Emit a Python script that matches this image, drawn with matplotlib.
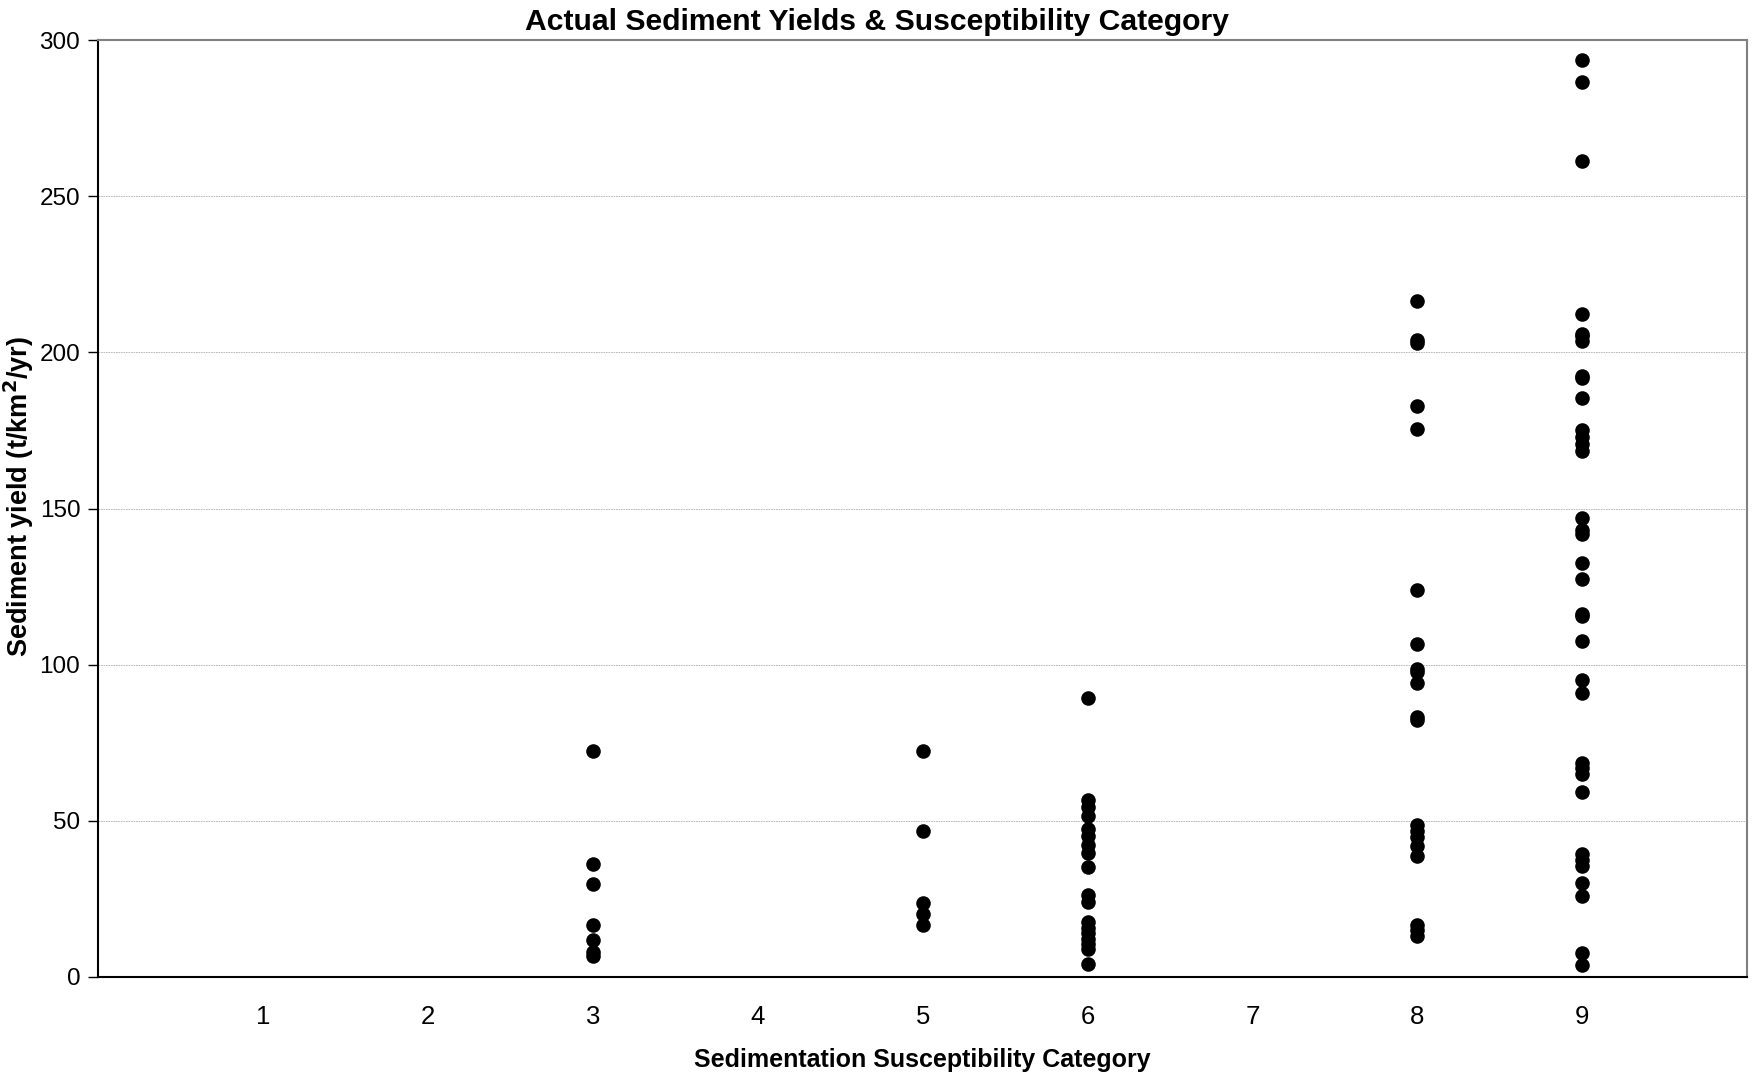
import numpy as np
import matplotlib.pyplot as plt

plt.rcParams['font.family'] = ['Liberation Sans', 'DejaVu Sans']

# Sediment yield (t/km2/yr) per susceptibility category
cat3 = [72.5, 36.2, 29.8, 16.8, 11.9, 7.9, 6.6]
cat5 = [72.5, 46.6, 23.7, 20.2, 16.5]
cat6 = [89.2, 56.6, 54.4, 51.6, 47.3, 45.1, 42.3, 39.7, 35.1, 26.2, 24.0,
        17.5, 15.8, 14.0, 12.3, 10.6, 9.0, 4.3]
cat8 = [216.4, 203.9, 203.0, 182.9, 175.4, 124.0, 106.6, 98.5, 97.7, 94.0,
        83.4, 82.3, 48.7, 46.9, 44.8, 41.9, 38.7, 16.5, 15.0, 13.2]
cat9 = [293.8, 286.6, 261.4, 212.4, 205.9, 205.2, 203.7, 192.6, 191.9, 185.4,
        175.1, 172.9, 170.8, 168.6, 147.0, 143.0, 142.0, 132.7, 127.6, 116.4,
        115.6, 107.7, 95.2, 91.0, 68.5, 67.0, 65.1, 59.4, 39.3, 37.4, 35.4,
        30.0, 26.0, 7.8, 4.0]

categories = [3, 5, 6, 8, 9]
yields = [cat3, cat5, cat6, cat8, cat9]

fig = plt.figure(figsize=(17.53, 10.78), dpi=100)
ax = fig.add_axes([0.0561, 0.0937, 0.9405, 0.869])

for c, vals in zip(categories, yields):
    ax.scatter(np.full(len(vals), c), vals, s=110, color='black', zorder=3,
               linewidths=0)

ax.set_xlim(0, 10)
ax.set_ylim(0, 300)
ax.set_xticks(range(1, 10))
ax.set_yticks(range(0, 301, 50))
ax.tick_params(axis='x', length=0, pad=20, labelsize=18.5)
ax.tick_params(axis='y', length=7, width=1, direction='out', pad=6, labelsize=17.5)

ax.yaxis.grid(True, color='#b0b0b0', linestyle=(0, (2, 1)), linewidth=0.6)
ax.set_axisbelow(True)

ax.spines['left'].set_color('black')
ax.spines['bottom'].set_color('black')
ax.spines['left'].set_linewidth(1.5)
ax.spines['bottom'].set_linewidth(1.5)
ax.spines['top'].set_color('#808080')
ax.spines['right'].set_color('#808080')
ax.spines['top'].set_linewidth(1.5)
ax.spines['right'].set_linewidth(1.5)

# title is centred on the whole figure, not on the axes
ax.set_title('Actual Sediment Yields & Susceptibility Category',
             fontsize=21.7, fontweight='bold', pad=7, x=0.472)
ax.set_xlabel('Sedimentation Susceptibility Category', fontsize=18,
              fontweight='bold', labelpad=14)
ax.set_ylabel('Sediment yield (t/km$^{\\mathbf{2}}$/yr)', fontsize=19.5,
              fontweight='bold', va='center')
ax.yaxis.set_label_coords(-0.0485, 0.513)

fig.savefig('out.png', dpi=100)
